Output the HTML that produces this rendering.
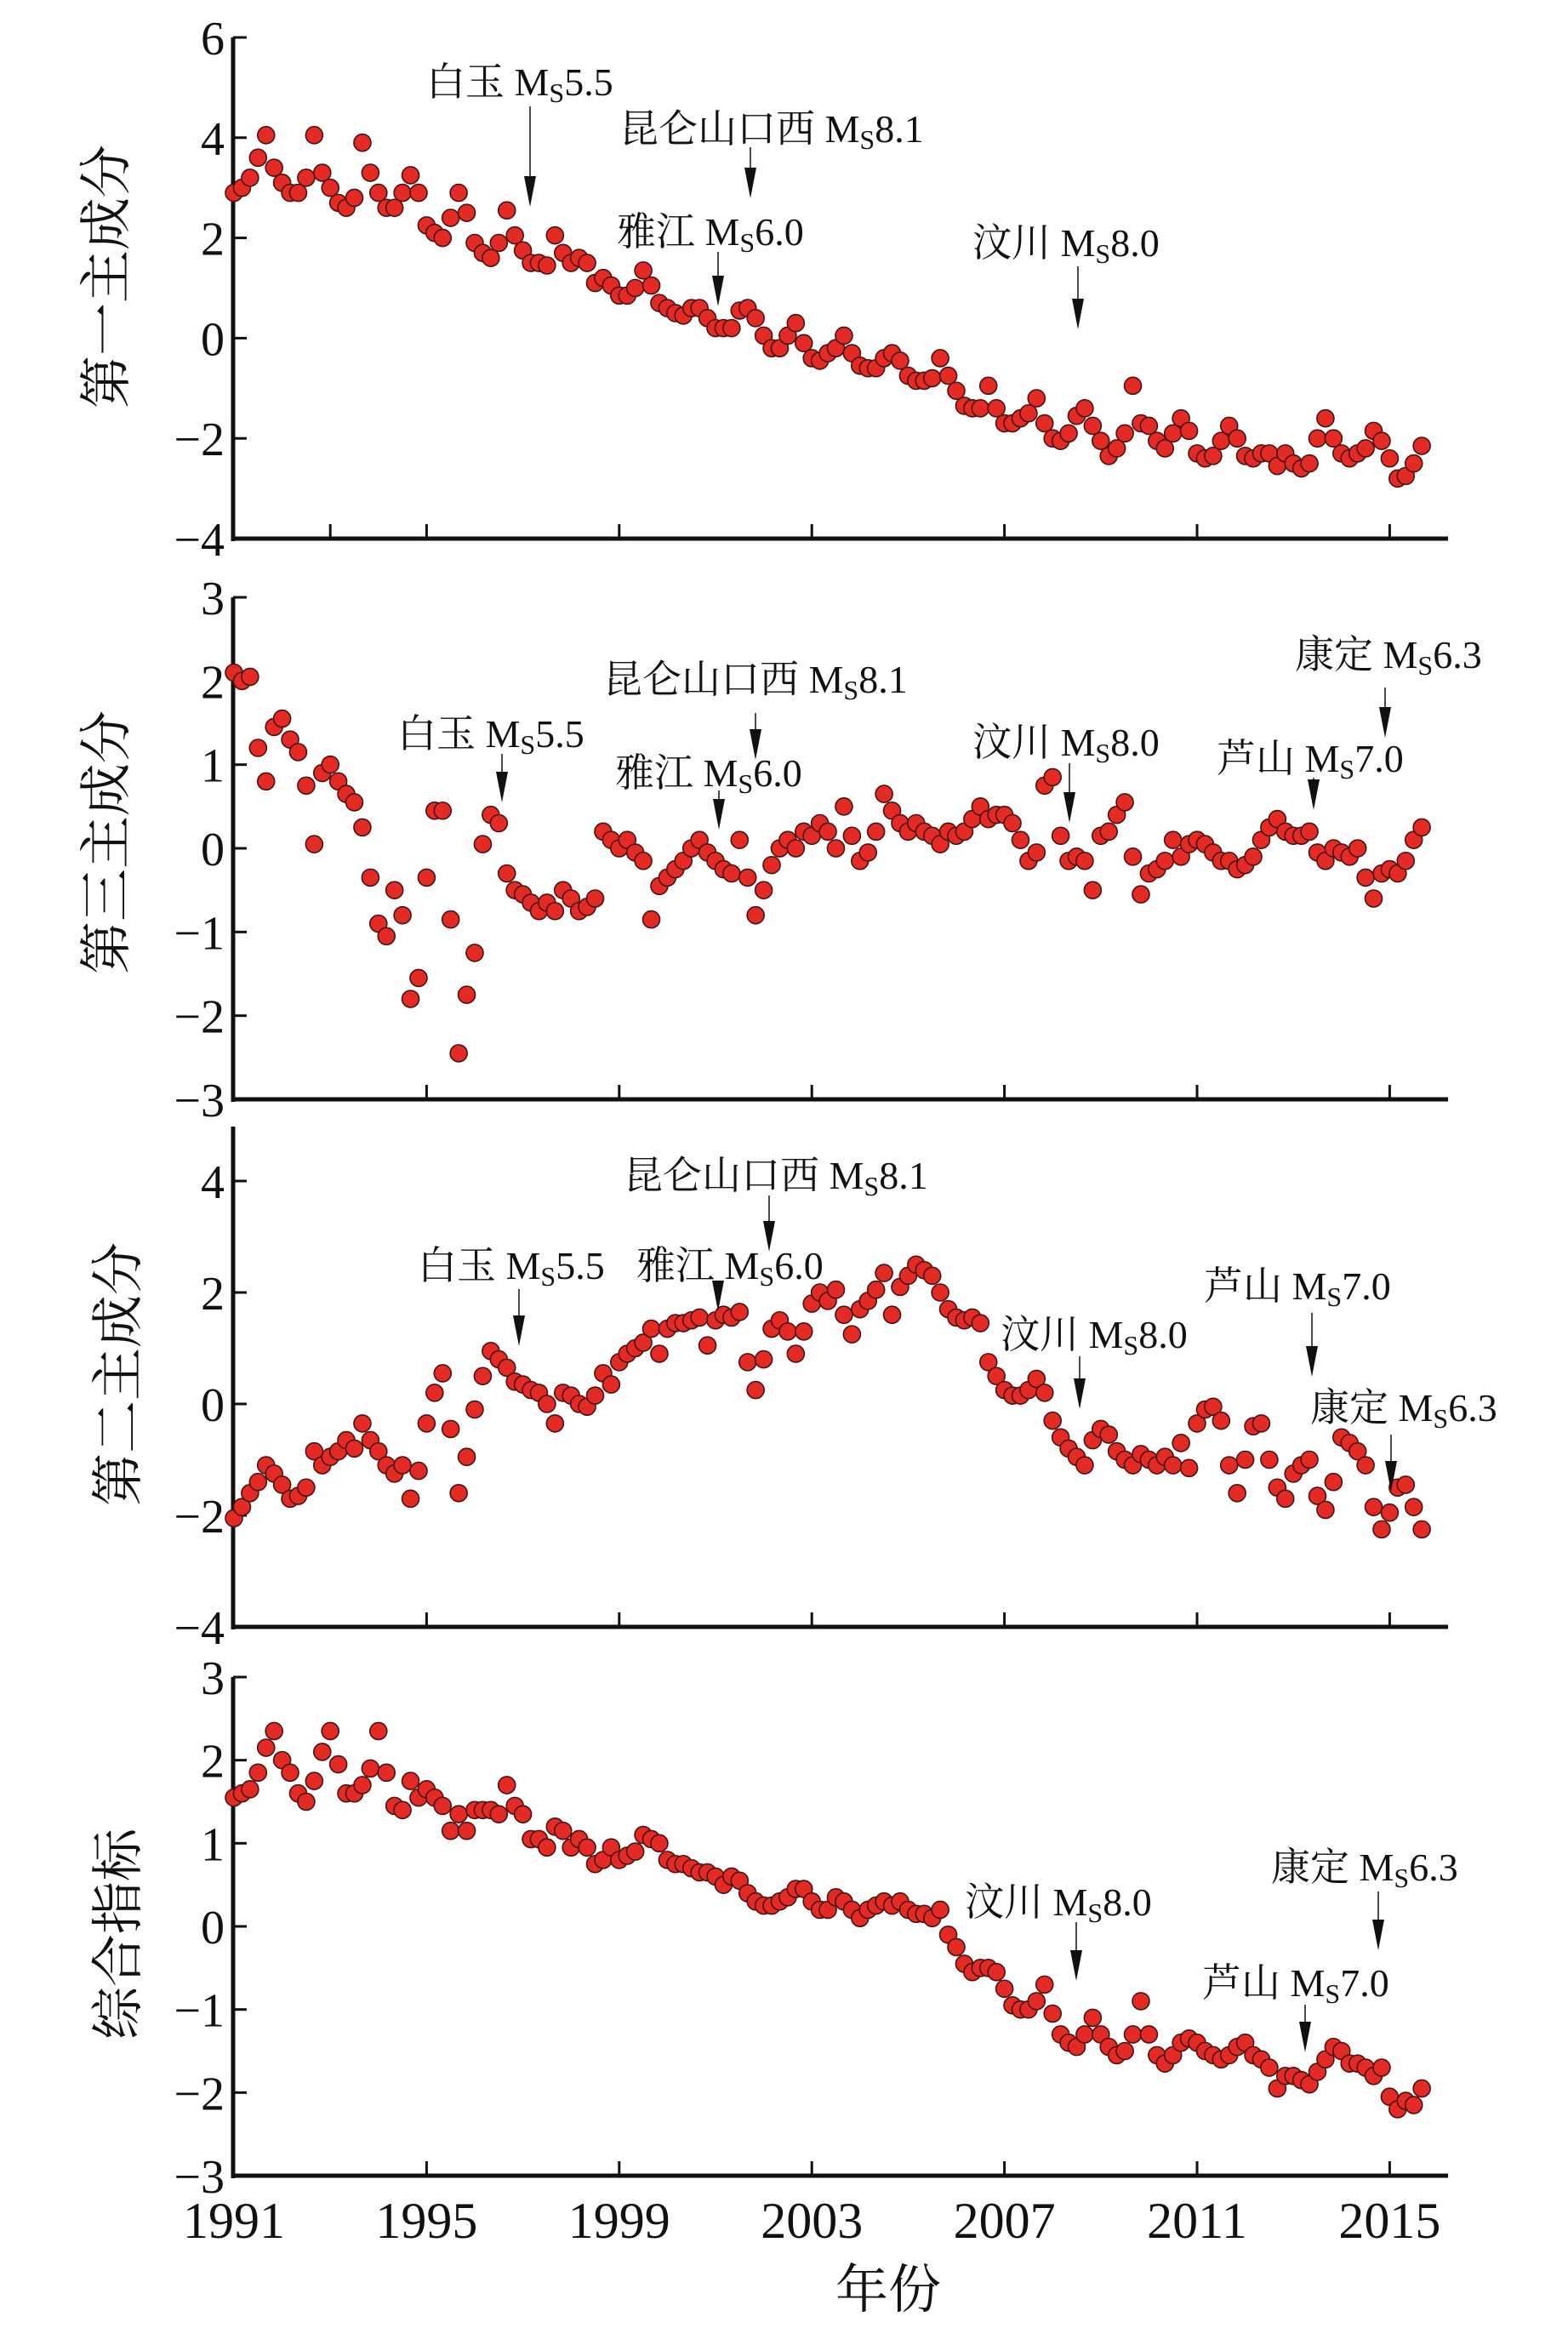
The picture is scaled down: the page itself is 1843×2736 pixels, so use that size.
<!DOCTYPE html>
<html><head><meta charset="utf-8"><style>
html,body{margin:0;padding:0;background:#fff}
svg{display:block}
text{font-family:"Liberation Serif","Noto Serif CJK SC","Noto Sans CJK SC",serif;fill:#111}
</style></head><body>
<svg id="chart" width="1843" height="2736" viewBox="0 0 1843 2736" xmlns="http://www.w3.org/2000/svg">
<g id="layer"></g>
</svg>
<script>
const startYear = 1991;
const stepYear = 1/6;
const xTicks1 = [1993, 1995, 1999, 2003, 2007, 2011, 2015];
const xTicks = [1995, 1999, 2003, 2007, 2011, 2015];
const xLabels = [1991, 1995, 1999, 2003, 2007, 2011, 2015];
const pc1Ticks = [6, 4, 2, 0, -2, -4];
const pc3Ticks = [3, 2, 1, 0, -1, -2, -3];
const pc2Ticks = [4, 2, 0, -2, -4];
const idxTicks = [3, 2, 1, 0, -1, -2, -3];

const pc1Values = [2.9,3.0,3.2,3.6,4.05,3.4,3.1,2.9,2.9,3.2,4.05,3.3,3.0,2.7,2.6,2.8,3.9,3.3,
2.9,2.6,2.6,2.9,3.25,2.9,2.25,2.1,2.0,2.4,2.9,2.5,1.9,1.7,1.6,1.9,2.55,2.05,
1.75,1.5,1.5,1.45,2.05,1.7,1.5,1.6,1.5,1.1,1.2,1.05,0.85,0.85,1.0,1.35,1.05,0.7,
0.6,0.5,0.45,0.6,0.6,0.4,0.2,0.2,0.2,0.55,0.6,0.4,0.05,-0.2,-0.2,0.05,0.3,-0.1,
-0.4,-0.45,-0.3,-0.2,0.05,-0.3,-0.55,-0.6,-0.6,-0.4,-0.3,-0.45,-0.75,-0.85,-0.85,-0.8,-0.4,-0.75,
-1.05,-1.35,-1.4,-1.4,-0.95,-1.4,-1.7,-1.7,-1.6,-1.5,-1.2,-1.7,-2.0,-2.05,-1.9,-1.55,-1.4,-1.75,
-2.05,-2.35,-2.2,-1.9,-0.95,-1.7,-1.75,-2.05,-2.2,-1.9,-1.6,-1.85,-2.3,-2.4,-2.35,-2.05,-1.75,-2.0,
-2.35,-2.4,-2.3,-2.3,-2.55,-2.3,-2.5,-2.6,-2.5,-2.0,-1.6,-2.0,-2.3,-2.4,-2.3,-2.2,-1.85,-2.05,
-2.4,-2.8,-2.75,-2.5,-2.15];

const pc3Values = [2.1,2.0,2.05,1.2,0.8,1.45,1.55,1.3,1.15,0.75,0.05,0.9,1.0,0.8,0.65,0.55,0.25,-0.35,
-0.9,-1.05,-0.5,-0.8,-1.8,-1.55,-0.35,0.45,0.45,-0.85,-2.45,-1.75,-1.25,0.05,0.4,0.3,-0.3,-0.5,
-0.55,-0.65,-0.75,-0.65,-0.75,-0.5,-0.6,-0.75,-0.7,-0.6,0.2,0.1,0.0,0.1,-0.05,-0.15,-0.85,-0.45,
-0.35,-0.25,-0.15,0.0,0.1,-0.05,-0.15,-0.25,-0.3,0.1,-0.35,-0.8,-0.5,-0.2,0.0,0.1,0.0,0.2,
0.15,0.3,0.2,0.0,0.5,0.15,-0.15,-0.05,0.2,0.65,0.45,0.3,0.2,0.3,0.2,0.15,0.05,0.2,
0.15,0.2,0.35,0.5,0.35,0.4,0.4,0.3,0.1,-0.15,-0.05,0.75,0.85,0.15,-0.15,-0.1,-0.15,-0.5,
0.15,0.2,0.4,0.55,-0.1,-0.55,-0.3,-0.25,-0.15,0.1,-0.1,0.05,0.1,0.05,-0.05,-0.15,-0.15,-0.25,
-0.2,-0.1,0.1,0.25,0.35,0.2,0.15,0.15,0.2,-0.05,-0.15,0.0,-0.05,-0.1,0.0,-0.35,-0.6,-0.3,
-0.25,-0.3,-0.15,0.1,0.25];

const pc2Values = [-2.05,-1.85,-1.6,-1.4,-1.1,-1.25,-1.45,-1.7,-1.65,-1.5,-0.85,-1.1,-0.95,-0.85,-0.65,-0.8,-0.35,-0.65,
-0.85,-1.1,-1.25,-1.1,-1.7,-1.2,-0.35,0.2,0.55,-0.45,-1.6,-0.95,-0.1,0.5,0.95,0.8,0.65,0.4,
0.35,0.25,0.2,0.0,-0.35,0.2,0.15,0.0,-0.05,0.15,0.55,0.35,0.75,0.9,1.0,1.1,1.35,0.9,
1.35,1.45,1.45,1.5,1.55,1.05,1.5,1.6,1.55,1.65,0.75,0.25,0.8,1.35,1.5,1.3,0.9,1.3,
1.8,2.0,1.85,2.05,1.6,1.25,1.7,1.85,2.05,2.35,1.6,2.1,2.3,2.5,2.4,2.3,2.0,1.7,
1.55,1.5,1.55,1.45,0.75,0.5,0.25,0.15,0.15,0.25,0.45,0.2,-0.3,-0.6,-0.8,-0.95,-1.1,-0.65,
-0.45,-0.55,-0.85,-1.0,-1.1,-0.9,-1.0,-1.1,-0.95,-1.1,-0.7,-1.15,-0.35,-0.1,-0.05,-0.3,-1.1,-1.6,
-1.0,-0.4,-0.35,-1.0,-1.5,-1.7,-1.25,-1.1,-1.0,-1.65,-1.9,-1.4,-0.6,-0.7,-0.85,-1.1,-1.85,-2.25,
-1.95,-1.5,-1.45,-1.85,-2.25];

const idxValues = [1.55,1.6,1.65,1.85,2.15,2.35,2.0,1.85,1.6,1.5,1.75,2.1,2.35,1.95,1.6,1.6,1.7,1.9,
2.35,1.85,1.45,1.4,1.75,1.55,1.65,1.55,1.45,1.15,1.35,1.15,1.4,1.4,1.4,1.35,1.7,1.45,
1.35,1.05,1.05,0.95,1.2,1.15,0.95,1.05,0.95,0.75,0.8,0.95,0.8,0.85,0.9,1.1,1.05,1.0,
0.8,0.75,0.75,0.7,0.65,0.65,0.6,0.5,0.6,0.55,0.4,0.3,0.25,0.25,0.3,0.35,0.45,0.45,
0.3,0.2,0.2,0.35,0.3,0.2,0.1,0.2,0.25,0.3,0.25,0.3,0.2,0.15,0.15,0.1,0.2,-0.1,
-0.25,-0.45,-0.55,-0.5,-0.5,-0.55,-0.75,-0.95,-1.0,-1.0,-0.9,-0.7,-1.05,-1.3,-1.4,-1.45,-1.3,-1.1,
-1.3,-1.45,-1.55,-1.5,-1.3,-0.9,-1.3,-1.55,-1.65,-1.55,-1.4,-1.35,-1.4,-1.5,-1.55,-1.6,-1.55,-1.45,
-1.4,-1.55,-1.6,-1.7,-1.95,-1.8,-1.8,-1.85,-1.9,-1.75,-1.6,-1.45,-1.5,-1.65,-1.65,-1.7,-1.8,-1.7,
-2.05,-2.2,-2.1,-2.15,-1.95];

const NS = "http://www.w3.org/2000/svg";
const layer = document.getElementById('layer');
function mk(tag, attrs, parent) {
  const e = document.createElementNS(NS, tag);
  for (const k in attrs) e.setAttribute(k, attrs[k]);
  (parent || layer).appendChild(e);
  return e;
}
const X0 = 275, XPY = 56.6;
function xScale(year) { return X0 + (year - startYear) * XPY; }

function drawPanel(p) {
  const g = mk('g', {});
  
  
  const yScale = v => p.yTopPx + (p.yTopVal - v) * (p.yBotPx - p.yTopPx) / (p.yTopVal - p.yBotVal);
  const yb = yScale(p.yBotVal);
  const ya = mk('line', {x1: 274, y1: p.axisTop, x2: 274, y2: yb + 3, stroke: '#111', 'stroke-width': 5}, g);
  
  
  const xa = mk('line', {x1: 272, y1: yb, x2: 1702, y2: yb, stroke: '#111', 'stroke-width': 5}, g);
  
  
  p.xt.forEach(t => {
    const tk = mk('line', {x1: xScale(t), y1: yb, x2: xScale(t), y2: yb - 17, stroke: '#111', 'stroke-width': 3}, g);
    
    
  });
  p.yt.forEach(t => {
    const y = yScale(t);
    const tk = mk('line', {x1: 274, y1: y, x2: 290, y2: y, stroke: '#111', 'stroke-width': 3}, g);
    
    
    const tl = mk('text', {x: 264, y: y + 20, 'text-anchor': 'end', 'font-size': 56}, g);
    tl.textContent = t < 0 ? '\u2212' + Math.abs(t) : String(t);
    
    
  });
  const tt = mk('text', {x: 0, y: 0, 'text-anchor': 'middle', 'font-size': 62, transform: `translate(${p.titleX},${p.titleY}) rotate(-90)`}, g);
  tt.textContent = p.title;
  
  
  p.vals.forEach((v, i) => {
    const c = mk('circle', {cx: xScale(startYear + i * stepYear), cy: yScale(v), r: 10, fill: '#e42a24', stroke: '#4a1210', 'stroke-width': 1.6}, g);
    
    
  });
  p.ann.forEach(a => {
    const t = mk('text', {x: a[0], y: a[1], 'font-size': 46}, g);
    
    
    const t1 = mk('tspan', {}, t); t1.textContent = a[2] + ' M';
    const t2 = mk('tspan', {'font-size': 32, dy: 8}, t); t2.textContent = 'S';
    const t3 = mk('tspan', {dy: -8}, t); t3.textContent = a[3];
    const ax = a[4], y1 = a[5], y2 = a[6];
    const ln = mk('line', {x1: ax, y1: y1, x2: ax, y2: y2 - 30, stroke: '#111', 'stroke-width': 1.5}, g);
    
    
    const hd = mk('polygon', {points: `${ax-7},${y2-36} ${ax+7},${y2-36} ${ax},${y2}`, fill: '#111'}, g);
    
    
  });
}

drawPanel({name: 'panel-pc1', title: '第一主成分', titleX: 146, titleY: 325, yTopVal: 6, yBotVal: -4, yTopPx: 44, yBotPx: 633, axisTop: 44, yt: pc1Ticks, xt: xTicks1, vals: pc1Values,
  ann: [[501,112,'白玉','5.5',623,125,243],[728,167,'昆仑山口西','8.1',882,173,233],[725,288,'雅江','6.0',844,296,360],[1143,301,'汶川','8.0',1267,313,387]]});
drawPanel({name: 'panel-pc3', title: '第三主成分', titleX: 146, titleY: 990, yTopVal: 3, yBotVal: -3, yTopPx: 702, yBotPx: 1292, axisTop: 702, yt: pc3Ticks, xt: xTicks, vals: pc3Values,
  ann: [[467,878,'白玉','5.5',590,886,943],[709,814,'昆仑山口西','8.1',888,838,893],[723,924,'雅江','6.0',845,929,975],[1143,888,'汶川','8.0',1257,897,967],[1430,907,'芦山','7.0',1544,914,952],[1522,785,'康定','6.3',1628,808,867]]});
drawPanel({name: 'panel-pc2', title: '第二主成分', titleX: 160, titleY: 1615, yTopVal: 4, yBotVal: -4, yTopPx: 1388, yBotPx: 1912, axisTop: 1324, yt: pc2Ticks, xt: xTicks, vals: pc2Values,
  ann: [[491,1503,'白玉','5.5',610,1515,1582],[733,1397,'昆仑山口西','8.1',904,1405,1471],[748,1503,'雅江','6.0',844,1507,1541],[1176,1584,'汶川','8.0',1269,1594,1656],[1415,1527,'芦山','7.0',1542,1543,1618],[1540,1670,'康定','6.3',1635,1686,1753]]});
drawPanel({name: 'panel-composite-index', title: '综合指标', titleX: 160, titleY: 2273, yTopVal: 3, yBotVal: -3, yTopPx: 1971, yBotPx: 2557, axisTop: 1971, yt: idxTicks, xt: xTicks, vals: idxValues,
  ann: [[1134,2251,'汶川','8.0',1265,2259,2328],[1494,2210,'康定','6.3',1620,2223,2292],[1413,2346,'芦山','7.0',1534,2356,2412]]});

xLabels.forEach(y => {
  const t = mk('text', {x: xScale(y), y: 2630, 'text-anchor': 'middle', 'font-size': 60});
  t.textContent = String(y);
  
  
});
const xt = mk('text', {x: 1044, y: 2712, 'text-anchor': 'middle', 'font-size': 62});
xt.textContent = '年份';


</script>
</body></html>
